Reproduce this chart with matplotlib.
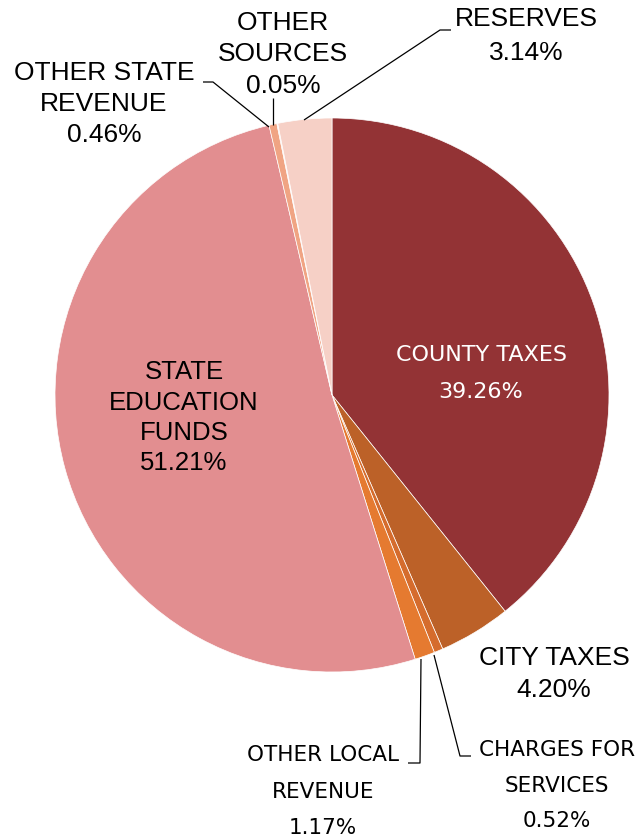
import matplotlib
matplotlib.use("Agg")
import matplotlib.pyplot as plt

categories = ["COUNTY TAXES", "CITY TAXES", "CHARGES FOR\nSERVICES", "OTHER LOCAL\nREVENUE",
              "STATE\nEDUCATION\nFUNDS", "OTHER STATE\nREVENUE", "OTHER\nSOURCES", "RESERVES"]
values = [39.26, 4.20, 0.52, 1.17, 51.21, 0.46, 0.05, 3.14]
pct_labels = ["39.26%", "4.20%", "0.52%", "1.17%", "51.21%", "0.46%", "0.05%", "3.14%"]
colors = ["#933335", "#BC6128", "#D56C2D", "#E57A30", "#E28E90", "#F0A483", "#F2B49A", "#F6D0C6"]

W, H = 643, 839
fig = plt.figure(figsize=(W / 100, H / 100), dpi=100)
cx, cy, R = 332, 395, 277
ax = fig.add_axes([(cx - R) / W, 1 - (cy + R) / H, 2 * R / W, 2 * R / H])

ax.pie(values, colors=colors, startangle=90, counterclock=False, radius=1,
       wedgeprops=dict(edgecolor="white", linewidth=0.5))
ax.set_xlim(-1, 1)
ax.set_ylim(-1, 1)
ax.set_aspect("equal")
ax.axis("off")

def P(px, py):
    return ((px - cx) / R, (cy - py) / R)

geo = ["DejaVu Sans"]
ari = ["Liberation Sans", "DejaVu Sans"]

def txt(px, py, s, color="black", size=14, fam=ari):
    x, y = P(px, py)
    ax.text(x, y, s, ha="center", va="center", color=color, fontsize=size,
            family=fam, clip_on=False)

def line(pts):
    xs, ys = zip(*[P(a, b) for a, b in pts])
    ax.plot(xs, ys, color="black", lw=0.9, clip_on=False, solid_capstyle="butt")

# County taxes
txt(481, 355, categories[0], "white", 16, geo)
txt(481, 392, pct_labels[0], "white", 16, geo)
# City taxes
txt(554, 658, categories[1], "black", 19, ari)
txt(554, 690, pct_labels[1], "black", 19, ari)
# Charges for services
ch = categories[2].split("\n")
txt(557, 750, ch[0], "black", 15.5, geo)
txt(557, 786, ch[1], "black", 15.5, geo)
txt(557, 821, pct_labels[2], "black", 15.5, geo)
line([(434, 655), (460, 756), (471, 756)])
# Other local revenue
ol = categories[3].split("\n")
txt(323, 755, ol[0], "black", 15.5, geo)
txt(323, 792, ol[1], "black", 15.5, geo)
txt(323, 828, pct_labels[3], "black", 15.5, geo)
line([(421, 659), (420, 763), (408, 763)])
# State education funds
se = categories[4].split("\n")
for i, s in enumerate(se + [pct_labels[4]]):
    txt(184, 372 + i * 30.5, s, "black", 18.5, ari)
# Other state revenue
osr = categories[5].split("\n")
txt(104, 73, osr[0], "black", 19, ari)
txt(104, 104, osr[1], "black", 19, ari)
txt(104, 135, pct_labels[5], "black", 19, ari)
line([(203, 82), (213, 82), (269, 127)])
# Other sources
os_ = categories[6].split("\n")
txt(283, 23, os_[0], "black", 19, ari)
txt(283, 54, os_[1], "black", 19, ari)
txt(283, 86, pct_labels[6], "black", 19, ari)
line([(273, 98), (273, 125)])
# Reserves
txt(526, 19, categories[7], "black", 19, ari)
txt(526, 53, pct_labels[7], "black", 19, ari)
line([(451, 30), (440, 30), (304, 120)])

fig.savefig("out.png", dpi=100)
